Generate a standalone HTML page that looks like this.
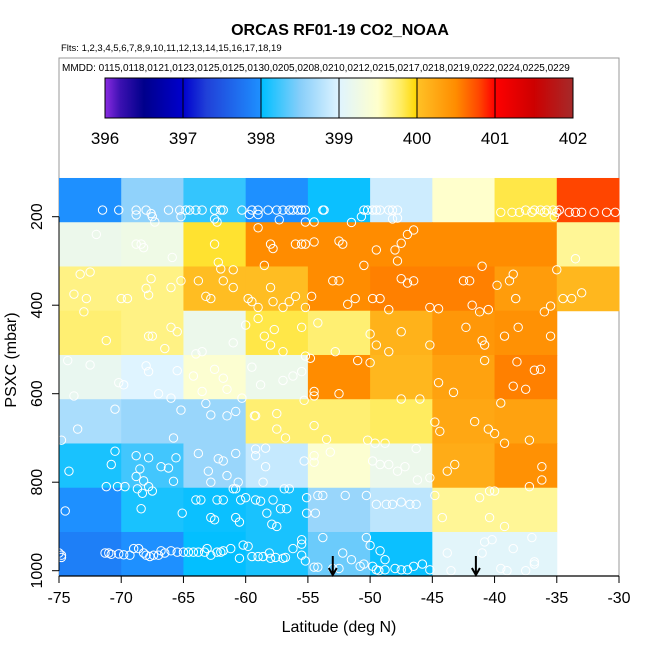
<!DOCTYPE html>
<html><head><meta charset="utf-8"><style>
html,body{margin:0;padding:0;background:#fff;}
svg{display:block;font-family:"Liberation Sans",sans-serif;}
</style></head><body>
<svg id="chart" width="650" height="650" viewBox="0 0 650 650" xmlns="http://www.w3.org/2000/svg">
<text x="340" y="35" text-anchor="middle" font-size="16" font-weight="bold">ORCAS RF01-19 CO2_NOAA</text>
<text x="61" y="51" font-size="9.5">Flts: 1,2,3,4,5,6,7,8,9,10,11,12,13,14,15,16,17,18,19</text>
<rect x="59" y="58" width="560" height="518" fill="none" stroke="#999" stroke-width="1"/>
<text x="62" y="71" font-size="10">MMDD: 0115,0118,0121,0123,0125,0125,0130,0205,0208,0210,0212,0215,0217,0218,0219,0222,0224,0225,0229</text>
<defs><linearGradient id="cbg" x1="0" x2="1" y1="0" y2="0"></linearGradient></defs>
<g id="colorbar"></g>
<g id="cells"></g>
<g id="points"></g>
<g id="axes"></g>
</svg>
<script>
const lonEdges = [-75,-70,-65,-60,-55,-50,-45,-40,-35,-30];
const presEdges = [112.5,212.5,312.5,412.5,512.5,612.5,712.5,812.5,912.5,1012.5];
const row0 = [398.0,398.55,398.2,398.0,398.05,398.9,399.5,399.85,400.8];
const row1 = [399.2,399.25,399.9,400.5,400.5,400.5,400.5,400.5,399.65];
const row2 = [399.7,399.7,400.05,400.05,400.5,400.55,400.55,400.35,400.1];
const row3 = [399.75,399.7,399.2,399.85,399.75,400.15,400.4,400.45,null];
const row4 = [399.15,399.0,399.45,399.2,400.5,400.1,400.3,400.55,null];
const row5 = [398.7,398.6,398.6,399.75,399.75,399.8,400.25,400.3,null];
const row6 = [398.1,398.25,398.6,398.85,399.45,399.2,400.2,400.45,null];
const row7 = [398.0,398.1,398.05,398.1,398.6,398.8,399.65,399.65,null];
const row8 = [397.85,398.0,398.02,398.1,398.4,398.05,399.05,399.05,null];
const xTicks = [-75,-70,-65,-60,-55,-50,-45,-40,-35,-30];
const yTicks = [200,400,600,800,1000];
const cbTicks = [396,397,398,399,400,401,402];
const arrowLats = [-53,-41.5];
const ptLat = [-71.5,-70.2,-68.8,-68.0,-66.2,-65.3,-64.8,-64.5,-64.0,-63.5,-62.5,-62.0,-61.8,-60.3,-59.5,-59.0,-58.2,-57.5,-57.0,-56.5,-56.2,-55.8,-55.5,-55.2,-53.8,-53.7,-50.5,-50.2,-49.8,-49.5,-49.2,-48.5,-48.2,-47.8,-37.5,-36.8,-36.3,-35.8,-35.3,-34.8,-39.5,-38.6,-38,-37,-36,-35,-34,-33.5,-33,-32,-31,-30.3,
-68.8,-67.6,-67.5,-67.3,-65.2,-62.5,-62.3,-59.7,-59,-57.3,-55.2,-54.5,-50.7,-51.5,-48.2,-47.8,-35.2,
-72,-68.8,-68.4,-68.2,-65.9,-62.5,-62.2,-62,-61,-59,-58,-57.8,-58.5,-56,-55.5,-55.2,-54.5,-52.5,-52.2,-50.5,-49.5,-48,-47.5,-47.8,-47,-46.5,-41,-35,-33.5,-38.5,-39.8,
-73.3,-72.5,-73.8,-72.8,-73,-70,-69.5,-68,-67.6,-67.8,-66,-65.2,-63.8,-63.2,-62.8,-61.8,-61,-59.8,-59.5,-59,-58,-57.8,-57,-56.5,-56,-55.2,-54.7,-53,-52.5,-51.8,-51.2,-49.8,-49.2,-48.5,-47.5,-47,-46.5,-45.2,-44.5,-42.5,-42,-41.8,-41.2,-40.5,-38.8,-38.3,-36,-35.5,-34.5,-33.8,-33,
-71.2,-67.8,-67.5,-66.5,-66,-65.5,-64,-63.5,-61,-60,-59,-58.5,-58,-57.7,-57,-55.5,-54.8,-54.2,-52.8,-51,-50,-49.5,-48.5,-47.5,-45.2,-42.3,-41,-40.8,-39.2,-38.1,-38.2,-35.5,
-74.3,-72.5,-70.2,-69.8,-73.8,-68,-67.8,-67,-66,-65.5,-64.2,-63.5,-63.2,-62.5,-61.8,-61.5,-60.8,-60.3,-59.5,-59.3,-58.8,-57,-56.2,-55.5,-55.2,-54.5,-52.5,-50,-47.5,-46,-44.5,-43.3,-40.8,-36.8,-36.3,-38.5,-37.5,
-70.5,-73.5,-74.8,-65.2,-65.8,-62.8,-61.5,-59.2,-57.5,-57.5,-56.8,-55.3,-54.5,-54.5,-53.5,-50.2,-49.6,-48.8,-46.3,-44.8,-44.4,-41.6,-40.5,-40,-39.2,-37.2,-39.5,
-74.2,-70.5,-70.8,-68.5,-68.8,-68.2,-68.8,-67.8,-66.8,-66.2,-65.8,-65.6,-63.8,-63,-62.8,-62.2,-61.8,-61.5,-60.8,-60.6,-59.2,-59.2,-58.4,-58.4,-58.6,-55.3,-54.5,-54.5,-53.2,-49.8,-49.2,-48.5,-47.8,-47.2,-46.2,-45.2,-43.8,-43.2,-36.2,-36.2,-37.2,
-71.2,-70.3,-69.7,-68.7,-68.3,-67.8,-67.5,-64,-63.6,-62.3,-61.8,-61,-60.8,-60.4,-60,-59.2,-58.8,-57.8,-57.2,-56.7,-56.9,-56.5,-55.1,-54.2,-55.1,-54.4,-74.5,-68.4,-65.1,-62.8,-62.5,-60.8,-60.5,-58.3,-57.9,-57.5,-53.8,-52,-50.3,-49.5,-48.7,-48.2,-47.5,-46.8,-46.3,-44.8,-44.2,-41.2,-40.4,-40,-40.4,-39.2,-50.3,-53.8,-55.5,-40.8,-37,-50,
-75,-74.8,-74.8,-71.3,-71,-70.8,-70.2,-69.8,-69.3,-69,-68.6,-68.2,-68,-67.7,-67.4,-67,-66.8,-66.5,-66,-65.5,-65,-64.6,-64.2,-63.8,-63.3,-63.1,-62.8,-62.3,-62,-61.8,-61.2,-60.5,-60.2,-59.8,-59.5,-59,-58.6,-58.1,-58,-57.6,-57,-56.8,-56.2,-55.5,-55.2,-54.5,-54.2,-53,-55.5,-52.2,-52.5,-51.5,-50.8,-50.5,-49.8,-49.5,-48.8,-48,-47.5,-47,-46.5,-45.8,-49.3,-43.5,-43.8,-39,-39.5,-36.8,-36.8,-37.5,-38.5,-41,-40.2,-45.2,-48.8,-49.2];
const ptPres = [185,185,185,185,185,185,185,185,185,185,185,185,185,185,185,185,185,185,185,185,185,185,185,185,185,185,185,185,185,185,185,185,185,185,185,185,185,185,185,185,190,190,190,190,190,190,190,190,190,190,190,190,
196,193,200,212,200,205,212,195,195,207,212,212,200,213,205,203,200,
240,262,262,270,292,262,303,318,320,225,262,272,310,262,262,262,257,255,262,310,275,275,260,300,240,230,312,320,295,330,355,
330,325,375,385,415,385,385,362,340,377,360,345,345,380,385,345,360,385,392,405,360,392,405,392,380,405,380,345,345,398,385,385,385,410,340,350,345,405,408,345,345,400,415,410,345,385,415,402,385,385,372,
480,470,470,498,450,460,510,505,485,445,430,470,490,455,505,450,520,440,505,525,465,490,505,460,490,450,480,490,470,450,528,470,
525,535,575,580,605,537,550,600,610,548,560,595,622,545,565,590,640,610,540,650,580,570,560,550,515,595,600,530,612,612,575,597,525,547,545,583,590,
635,680,705,637,700,648,650,650,645,680,700,615,605,672,703,705,712,712,724,664,685,663,680,690,712,705,621,
775,730,760,770,787,797,740,745,765,768,798,745,735,775,800,747,752,785,735,800,725,740,723,765,800,752,740,755,732,752,760,760,775,765,795,790,775,760,765,795,810,
810,810,810,815,825,810,820,840,840,840,840,815,815,840,835,840,843,840,860,860,815,815,835,830,870,870,865,860,870,880,885,880,890,870,895,900,830,830,830,850,850,850,845,850,850,830,880,835,820,820,880,900,925,925,940,935,925,943,
960,965,970,960,960,963,962,964,965,950,950,960,965,968,965,965,955,960,955,958,958,958,958,958,958,950,965,958,958,955,950,972,942,945,968,968,968,960,972,970,972,970,950,965,978,992,992,995,930,960,995,975,990,985,990,998,998,995,998,998,990,985,1000,1000,960,1000,995,985,980,1000,950,960,930,998,975,955];

const NS='http://www.w3.org/2000/svg';
function mk(tag,attrs,parent){const e=document.createElementNS(NS,tag);for(const k in attrs)e.setAttribute(k,attrs[k]);parent.appendChild(e);return e;}
const X0=59,X1=619,LAT0=-75,LAT1=-30;
const xS=v=>X0+(v-LAT0)*(X1-X0)/(LAT1-LAT0);
const yS=p=>216.7+(p-200)*0.4425;
const stops=[[396,'#8a2be2'],[396.2,'#3a10b0'],[396.5,'#00008b'],[397,'#0000cd'],[397.3,'#2040d8'],[398,'#1e90ff'],[398.01,'#00bfff'],[398.5,'#87cefa'],[399,'#dff4ff'],[399.5,'#ffffcc'],[399.8,'#ffec60'],[400,'#ffd700'],[400.01,'#ffc125'],[400.5,'#ff8c00'],[400.8,'#ff4500'],[401,'#ff0000'],[401.5,'#cd0000'],[402,'#a52a2a']];
function hx(c){return [parseInt(c.substr(1,2),16),parseInt(c.substr(3,2),16),parseInt(c.substr(5,2),16)];}
function col(v){
  if(v<=stops[0][0])return stops[0][1];
  for(let i=1;i<stops.length;i++){if(v<=stops[i][0]){const a=hx(stops[i-1][1]),b=hx(stops[i][1]);const t=(v-stops[i-1][0])/(stops[i][0]-stops[i-1][0]);return 'rgb('+a.map((x,j)=>Math.round(x+(b[j]-x)*t)).join(',')+')';}}
  return stops[stops.length-1][1];
}
// colorbar
const CB0=105,CB1=573,cbS=v=>CB0+(v-396)*(CB1-CB0)/6;
const grad=document.getElementById('cbg');
stops.forEach(s=>{const st=mk('stop',{offset:((s[0]-396)/6*100)+'%','stop-color':s[1]},grad);});
const cb=document.getElementById('colorbar');
const cbr=mk('rect',{x:CB0,y:78,width:CB1-CB0,height:40,fill:'url(#cbg)',stroke:'#000','stroke-width':1},cb);


cbTicks.forEach(t=>{
  const l=mk('line',{x1:cbS(t),x2:cbS(t),y1:78,y2:118,stroke:'#000','stroke-width':1},cb);
  
  
  const tx=mk('text',{x:cbS(t),y:144,'text-anchor':'middle','font-size':'17'},cb);
  tx.textContent=t;
  
  
});
// cells
const rows=[row0,row1,row2,row3,row4,row5,row6,row7,row8];
const cg=document.getElementById('cells');
rows.forEach((r,i)=>r.forEach((v,j)=>{
  if(v===null)return;
  const x=xS(lonEdges[j]),x2=xS(lonEdges[j+1]),y=yS(presEdges[i]),y2=Math.min(yS(presEdges[i+1]),576);
  const c=mk('rect',{x:x,y:y,width:x2-x+0.5,height:y2-y+0.5,fill:col(v)},cg);
  
  
}));
// points
const pg=document.getElementById('points');
ptLat.forEach((la,i)=>{
  const c=mk('circle',{cx:xS(la),cy:yS(ptPres[i]),r:4.2,fill:'none',stroke:'#fff','stroke-width':1},pg);
  
  
});
// axes
const ax=document.getElementById('axes');
const xl=mk('line',{x1:X0,x2:X1,y1:576,y2:576,stroke:'#000','stroke-width':1.3},ax);


xTicks.forEach(t=>{
  const l=mk('line',{x1:xS(t),x2:xS(t),y1:576,y2:583,stroke:'#000'},ax);
  
  
  const tx=mk('text',{x:xS(t),y:603,'text-anchor':'middle','font-size':'16'},ax);
  tx.textContent=t;
  
  
});
const yl=mk('line',{x1:X0,x2:X0,y1:yS(200),y2:yS(1000),stroke:'#000','stroke-width':1},ax);


yTicks.forEach(t=>{
  const y=yS(t);
  const l=mk('line',{x1:X0-7,x2:X0,y1:y,y2:y,stroke:'#000'},ax);
  
  
  const tx=mk('text',{x:42,y:y,'text-anchor':'middle','font-size':'16',transform:'rotate(-90 42 '+y+')'},ax);
  tx.textContent=t;
  
  
});
arrowLats.forEach(a=>{
  const x=xS(a);
  const l=mk('path',{d:'M'+x+' 556 L'+x+' 575 M'+(x-4)+' 568 L'+x+' 575 L'+(x+4)+' 568',stroke:'#000','stroke-width':2,fill:'none'},ax);
  
  
});
const xt=mk('text',{x:339,y:632,'text-anchor':'middle','font-size':'16'},ax);
xt.textContent='Latitude (deg N)';


const yt=mk('text',{x:16,y:360,'text-anchor':'middle','font-size':'16',transform:'rotate(-90 16 360)'},ax);
yt.textContent='PSXC (mbar)';


</script>
</body></html>
